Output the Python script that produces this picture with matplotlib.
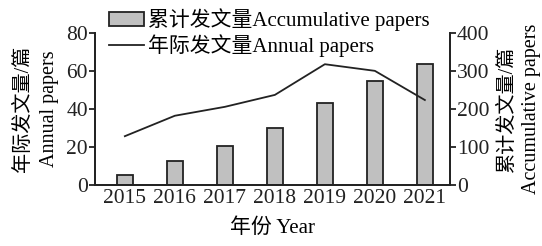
import matplotlib.pyplot as plt
from matplotlib.patches import Patch
from matplotlib.lines import Line2D

plt.rcParams['font.family'] = ['Liberation Serif', 'Noto Sans CJK SC']

years = ['2015', '2016', '2017', '2018', '2019', '2020', '2021']
annual = [25.5, 36.3, 41, 47.3, 63.5, 60, 44.6]
cumulative = [25, 62, 102, 148, 215, 274, 317]

fig = plt.figure(figsize=(5.42, 2.46), dpi=100)
ax = fig.add_axes([0.175, 0.25, 0.655, 0.616])
ax2 = ax.twinx()

x = list(range(len(years)))
# bars on the right axis, line on the left one
ax2.bar(x, cumulative, width=0.32, color='#c0c0c0', edgecolor='#222222', linewidth=1.3, zorder=2)
ax.plot(x, annual, color='#222222', linewidth=1.3, zorder=3)
ax.set_zorder(ax2.get_zorder() + 1)
ax.patch.set_visible(False)

ax.set_xlim(-0.6, 6.5)
ax.set_ylim(0, 80)
ax2.set_ylim(0, 400)
ax.set_yticks([0, 20, 40, 60, 80])
ax2.set_yticks([0, 100, 200, 300, 400])
ax.set_xticks(x)
ax.set_xticklabels(years)

for a in (ax, ax2):
    a.spines['top'].set_visible(False)
    for s in a.spines.values():
        s.set_linewidth(1.3)
        s.set_color('#222222')
    a.tick_params(labelsize=15.5, width=1.3, length=4, pad=1, colors='#222222')
ax.tick_params(axis='x', length=0, pad=3)

ax.set_ylabel('年际发文量/篇\nAnnual papers', fontsize=14.5, linespacing=1.55, labelpad=5)
ax2.set_ylabel('累计发文量/篇\nAccumulative papers', fontsize=14.5, linespacing=1.35, rotation=90, labelpad=6)
ax.set_xlabel('年份 Year', fontsize=15, labelpad=8)

handles = [Patch(facecolor='#c0c0c0', edgecolor='#222222', linewidth=1.3),
           Line2D([0], [0], color='#222222', linewidth=1.3)]
fig.legend(handles, ['累计发文量Accumulative papers', '年际发文量Annual papers'],
           loc='upper left', bbox_to_anchor=(0.185, 1.0), frameon=False, fontsize=15,
           handlelength=1.7, handletextpad=0.2, labelspacing=0.15, borderaxespad=0)

fig.savefig('out.png', dpi=100)
